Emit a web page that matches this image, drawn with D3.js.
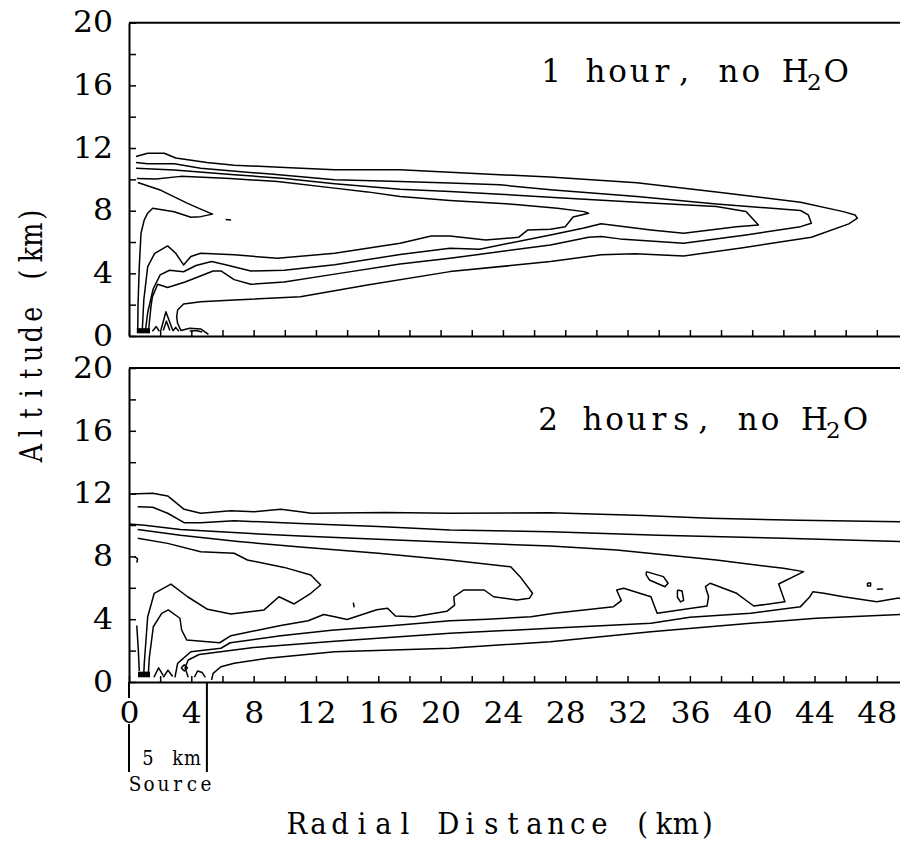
<!DOCTYPE html>
<html>
<head>
<meta charset="utf-8">
<script src="https://cdn.jsdelivr.net/npm/d3@7"></script>
<style>
  html, body { margin: 0; padding: 0; background: #fff; }
  svg { display: block; }
  text { white-space: pre; }
</style>
</head>
<body>
<svg id="chart" width="900" height="842"></svg>
<script>
// ---- axis ticks and labels ----
const xTicks = d3.range(0, 50, 2);          // km, tick every 2 km
const xLabels = d3.range(0, 49, 4);         // labelled every 4 km
const zTicks = d3.range(0, 21, 2);          // altitude ticks (km)
const zLabels = [0, 4, 8, 12, 16, 20];

const panelTitles = [
  { main: "1 hour, no H", sub: "2", tail: "O" },
  { main: "2 hours, no H", sub: "2", tail: "O" }
];

const sourceWidthKm = 5;

// ---- concentration contours, 1 hour (each: [radial km, altitude km]) ----
const hour1Outer = [[0.45,11.46],[1.2,11.67],[2.26,11.67],[3.0,11.36],[5.0,11.08],[6.75,10.9],[10,10.76],[13.2,10.62],[17.4,10.62],[20.6,10.45],[23.8,10.3],[27,10.15],[32.6,9.78],[37.7,9.2],[43.1,8.54],[45.85,7.94],[46.6,7.73],[46.75,7.52],[46.2,7.16],[43.8,6.3],[39.3,5.62],[35.6,5.11],[32.5,5.25],[30.3,5.18],[27.05,4.75],[20.6,4.11],[15.3,3.26],[11.0,2.51],[6.75,2.3],[4.6,2.19],[3.5,2.04],[3.12,1.66],[3.06,1.2],[3.12,0.81],[3.33,0.35],[3.9,0.5],[4.6,0.45],[5.1,0.1]];
const hour1Second = [[0.45,11.07],[1.2,10.99],[2.9,10.99],[4.6,10.71],[8.9,10.35],[13.2,9.98],[17.4,9.86],[20.6,9.76],[23.8,9.65],[27.05,9.33],[32.6,8.9],[37.7,8.43],[43.1,8.01],[43.6,7.73],[43.8,7.2],[43.1,6.98],[39.6,6.45],[35.6,5.92],[31.5,6.2],[30.3,6.35],[29.5,6.3],[27.05,5.81],[20.6,4.96],[17.4,4.6],[13.2,3.95],[9.96,3.45],[7.82,3.3],[6.75,3.6],[5.9,4.15],[5.4,4.15],[4.5,3.8],[3.6,3.45],[2.48,3.1],[1.84,3.3],[1.5,2.5],[1.41,1.87],[1.3,0.8],[1.25,0.3]];
const hour1Third = [[0.45,10.71],[2.9,10.6],[6.75,10.3],[10,10.05],[13.2,9.72],[17.4,9.37],[20.6,9.22],[23.8,9.05],[27,8.85],[32.6,8.54],[37.7,8.26],[39.6,7.95],[40.4,7.09],[39.0,6.98],[35.6,6.56],[33.5,6.77],[30.3,7.16],[29.2,6.9],[27.05,6.45],[22.5,5.54],[20.6,5.6],[17.4,5.2],[13.2,4.55],[9.96,4.2],[7.82,4.15],[6.2,4.55],[5.3,4.75],[4.3,4.5],[3.5,4.1],[2.6,4.2],[2.0,3.9],[1.55,3.0],[1.2,1.5],[1.05,0.3]];
const hour1Fourth = [[0.5,10.05],[1.73,10.03],[3.33,10.19],[6.5,10.05],[9.53,9.86],[13.2,9.44],[15.3,9.2],[17.4,8.9],[20.6,8.65],[24.8,8.4],[27.5,8.15],[29.2,7.94],[29.5,7.84],[28.5,7.6],[28.0,6.98],[27.05,6.82],[25.6,6.77],[25.0,6.3],[22.9,6.13],[20.6,6.39],[19.4,6.39],[17.4,5.92],[13.2,5.28],[9.53,4.96],[6.75,5.18],[4.6,5.28],[3.97,5.07],[3.5,4.54],[3.0,5.28],[2.48,5.75],[1.65,5.28],[1.2,4.43],[0.95,2.3],[0.85,0.3]];
const hour1Core = [[0.56,9.8],[2.05,9.3],[3.76,8.47],[4.6,8.1],[5.36,7.78],[4.6,7.62],[3.97,7.58],[2.9,7.93],[1.52,8.16],[1.2,7.84],[0.98,7.41],[0.77,6.56],[0.66,4.43],[0.58,2.0],[0.56,0.3]];
const hour1Fragments = [
  [[6.2,7.43],[6.55,7.4]],
  [[2.05,0.38],[2.37,1.55],[2.8,0.38]],
  [[2.2,0.35],[2.4,0.95],[2.62,0.35]],
  [[1.5,0.3],[1.75,0.6],[1.95,0.3]],
  [[2.8,0.3],[3.0,0.55],[3.2,0.3]],
  [[3.9,0.3],[4.3,0.35],[4.7,0.25]]
];
const hour1Source = { x0: 0.5, x1: 1.35, z0: 0.17, z1: 0.5 };

// ---- concentration contours, 2 hours ----
const hour2Outer = [[0.13,11.97],[1.52,12.02],[2.48,11.85],[3.54,11.0],[4.6,10.75],[6.54,10.9],[8.03,10.85],[9.74,11.0],[11.0,10.85],[11.7,10.75],[16.5,10.8],[20.6,10.75],[27.0,10.78],[33,10.6],[37.3,10.43],[43,10.3],[49.6,10.21],[51,10.2],[51,4.3],[49.6,4.3],[44.1,4.06],[39.9,3.74],[33.5,3.2],[27.05,2.57],[20.6,2.15],[13.2,1.93],[8.9,1.51],[6.75,1.19],[5.9,0.97],[5.4,0.55],[5.3,0.13]];
const hour2Second = [[0.56,11.17],[1.52,11.13],[2.48,10.75],[3.54,10.15],[4.6,10.15],[6.75,10.27],[11.0,10.1],[16,9.9],[20.6,9.68],[27.05,9.57],[34,9.35],[42,9.15],[49.6,8.94],[51,8.9],[51,5.3],[49.3,5.33],[48.0,5.11],[45.85,5.43],[44.6,5.65],[43.9,5.75],[43.7,5.43],[43.1,4.8],[39.9,4.38],[36.0,4.12],[33.5,3.74],[27.05,3.42],[20.6,3.1],[13.2,2.6],[8,2.2],[4.5,1.75],[3.8,1.4],[3.6,0.9],[3.8,0.3]];
const hour2Third = [[0,10.07],[1.0,9.98],[3.3,9.72],[7,9.5],[11,9.3],[16,9.1],[20.6,8.9],[27.05,8.66],[31.3,8.41],[37.7,7.77],[42,7.24],[43.3,7.03],[41.7,6.24],[42.1,5.11],[40.1,4.84],[39.0,5.65],[37.3,6.29],[37.0,6.07],[37.2,5.43],[37.1,4.84],[33.9,4.38],[33.5,5.43],[31.75,5.97],[31.3,5.86],[31.6,5.18],[31.1,4.8],[27.3,4.38],[25.8,4.16],[23,4.0],[20.6,3.9],[17,3.6],[13,3.3],[9.74,2.95],[6.5,2.5],[5.9,2.15],[3.97,1.93],[3.12,1.19],[2.95,0.3]];
const hour2Fourth = [[0.56,9.72],[3.3,9.35],[7,8.95],[11,8.6],[16,8.2],[20.6,7.77],[24.5,7.34],[25.1,6.71],[25.9,5.65],[25.7,5.33],[24.9,5.22],[23.4,5.43],[22.8,5.86],[21.5,5.86],[20.85,5.43],[20.9,4.9],[20.4,4.5],[18.3,4.15],[17.1,4.2],[16.6,4.7],[15.9,4.6],[14.0,3.98],[13.2,4.15],[12.5,4.3],[11.5,3.9],[9.74,3.6],[6.54,2.95],[5.82,2.5],[3.7,2.68],[3.38,3.31],[3.27,4.06],[2.52,4.59],[2.1,4.37],[1.56,3.52],[1.3,1.5],[1.24,0.5]];
const hour2Core = [[0.56,9.15],[2.48,8.83],[4.6,8.3],[6.75,8.2],[7.6,7.77],[9.96,7.3],[11.67,6.82],[12.3,6.18],[11.67,5.65],[10.6,4.97],[9.63,5.43],[8.67,4.59],[6.54,4.33],[5.04,4.63],[3.76,5.43],[2.69,6.24],[1.62,5.65],[1.2,4.16],[0.98,1.19],[0.95,0.5]];
const hour2Fragments = [
  [[33.2,7.03],[34.3,6.71],[34.6,6.29],[34.4,6.07],[33.4,6.5],[33.2,6.82],[33.2,7.03]],
  [[35.2,5.86],[35.5,5.8],[35.6,5.2],[35.4,5.1],[35.2,5.4],[35.2,5.86]],
  [[47.4,6.3],[47.6,6.3],[47.6,6.12],[47.4,6.12],[47.4,6.3]],
  [[48.0,5.9],[48.4,5.92]],
  [[14.4,5.05],[14.45,4.75]],
  [[0.35,8.0],[0.55,7.85],[0.5,7.6]],
  [[0.5,3.6],[0.6,2.0],[0.66,0.7]],
  [[1.6,0.3],[1.9,0.9],[2.2,0.4]],
  [[2.2,0.3],[2.5,0.75],[2.8,0.35]],
  [[3.35,0.9],[3.55,1.1],[3.75,0.9],[3.55,0.7],[3.35,0.9]],
  [[4.2,0.3],[4.4,0.7],[4.7,0.6],[4.9,0.3]]
];
const hour2Source = { x0: 0.58, x1: 1.35, z0: 0.3, z1: 0.66 };

const panels = [
  { top: 22.7, bottom: 336, title: panelTitles[0], titleX: 551, titleY: 82,
    contours: [hour1Outer, hour1Second, hour1Third, hour1Fourth, hour1Core, ...hour1Fragments],
    source: hour1Source, labelsX: false },
  { top: 368, bottom: 682, title: panelTitles[1], titleX: 548, titleY: 430,
    contours: [hour2Outer, hour2Second, hour2Third, hour2Fourth, hour2Core, ...hour2Fragments],
    source: hour2Source, labelsX: true }
];

const svg = d3.select("#chart");
const x = d3.scaleLinear().domain([0, 50]).range([129, 129 + 50 * 15.58]);

const serif = "'DejaVu Serif', 'Liberation Serif', serif";

// typewriter-style text: every character centred on a fixed pitch,
// glyphs narrowed by `squeeze` so wide letters stay inside their cell
function pitchList(str, c0, pitch) {
  return Array.from(str, (_, i) => (c0 + i * pitch).toFixed(1)).join(" ");
}
function typeText(parent, str, c0, pitch, y, size, squeeze = 1) {
  const g = parent.append("g").attr("transform", `scale(${squeeze},1)`);
  return g.append("text")
    .attr("x", pitchList(str, c0 / squeeze, pitch / squeeze))
    .attr("y", y)
    .attr("text-anchor", "middle")
    .attr("font-family", serif)
    .attr("font-size", size)
    .attr("fill", "#000")
    .text(str);
}

function styleTickText(sel) {
  sel.selectAll("text")
    .attr("font-family", serif)
    .attr("font-size", 29)
    .attr("fill", "#000")
    .each(function () {
      const t = d3.select(this).text();
      if (t.length) {
        d3.select(this).attr("textLength", t.length * 20).attr("lengthAdjust", "spacingAndGlyphs");
      }
    });
}

panels.forEach(p => {
  const y = d3.scaleLinear().domain([0, 20]).range([p.bottom, p.top]);
  const g = svg.append("g");

  // contour lines
  const line = d3.line().x(d => x(d[0])).y(d => y(d[1]));
  g.append("g")
    .selectAll("path")
    .data(p.contours)
    .join("path")
    .attr("d", line)
    .attr("fill", "none")
    .attr("stroke", "#000")
    .attr("stroke-width", 1.5)
    .attr("stroke-linejoin", "round");

  // source block at the ground
  g.append("rect")
    .attr("x", x(p.source.x0))
    .attr("y", y(p.source.z1))
    .attr("width", x(p.source.x1) - x(p.source.x0))
    .attr("height", y(p.source.z0) - y(p.source.z1))
    .attr("fill", "#000");

  // top frame line
  g.append("line")
    .attr("x1", x(0)).attr("x2", x(50))
    .attr("y1", y(20)).attr("y2", y(20))
    .attr("stroke", "#000").attr("stroke-width", 2);

  // left axis (ticks pointing inward)
  const yAxis = d3.axisLeft(y)
    .tickValues(zTicks)
    .tickFormat(d => zLabels.includes(d) ? d : "")
    .tickSize(-7).tickSizeOuter(0).tickPadding(16);
  const ya = g.append("g").attr("transform", `translate(${x(0)},0)`).call(yAxis);
  ya.select(".domain").attr("stroke-width", 2);
  ya.selectAll(".tick line").attr("stroke-width", 1.5);
  styleTickText(ya);

  // bottom axis (ticks pointing inward)
  const xAxis = d3.axisBottom(x)
    .tickValues(xTicks)
    .tickFormat(d => p.labelsX && xLabels.includes(d) ? d : "")
    .tickSize(-6).tickSizeOuter(0).tickPadding(20);
  const xa = g.append("g").attr("transform", `translate(0,${y(0)})`).call(xAxis);
  xa.select(".domain").attr("stroke-width", 2);
  xa.selectAll(".tick line").attr("stroke-width", 1.5);
  styleTickText(xa);

  // panel title, typewriter spacing with a subscript
  const pitch = 22.2;
  const t = g.append("text")
    .attr("y", p.titleY)
    .attr("text-anchor", "middle")
    .attr("font-family", serif).attr("font-size", 31).attr("fill", "#000");
  t.append("tspan").attr("x", pitchList(p.title.main, p.titleX, pitch)).text(p.title.main);
  const hX = p.titleX + (p.title.main.length - 1) * pitch;
  t.append("tspan").attr("x", hX + 19).attr("dy", 8).attr("font-size", 23).text(p.title.sub);
  t.append("tspan").attr("x", hX + 41).attr("dy", -8).text(p.title.tail);

  p.y = y;
});

// source width annotation below the lower panel
const yLow = panels[1].y;
const annTop = yLow(0), annBottom = 772;
svg.append("line")
  .attr("x1", x(0)).attr("x2", x(0)).attr("y1", annTop).attr("y2", 698)
  .attr("stroke", "#000").attr("stroke-width", 2);
svg.append("line")
  .attr("x1", x(0)).attr("x2", x(0)).attr("y1", 724).attr("y2", annBottom)
  .attr("stroke", "#000").attr("stroke-width", 2);
svg.append("line")
  .attr("x1", x(sourceWidthKm)).attr("x2", x(sourceWidthKm)).attr("y1", annTop).attr("y2", annBottom)
  .attr("stroke", "#000").attr("stroke-width", 2);
typeText(svg, `${sourceWidthKm} km`, 148, 14.8, 765, 21, 0.85);
typeText(svg, "Source", 135, 14.2, 791, 21, 0.88);

// axis titles
const altG = svg.append("g").attr("transform", "translate(42,463) rotate(-90)");
typeText(altG, "Altitude (km)", 9.9, 19.85, 0, 31, 0.82);
typeText(svg, "Radial Distance (km)", 297, 21.6, 834, 30, 0.92);
</script>
</body>
</html>
